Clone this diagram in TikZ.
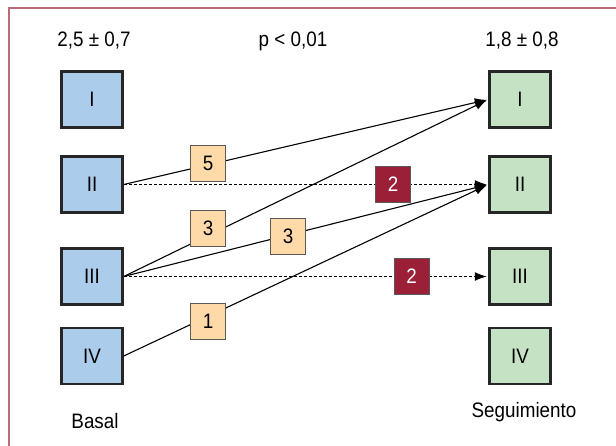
\documentclass[tikz,border=0pt]{standalone}
\usepackage{fontspec}
\setmainfont[FakeStretch=0.9]{Liberation Sans}
\usetikzlibrary{arrows.meta}
\definecolor{basalblue}{RGB}{171,205,235}
\definecolor{seggreen}{RGB}{197,227,196}
\definecolor{numorange}{RGB}{253,218,168}
\definecolor{numred}{RGB}{155,31,54}
\definecolor{framerose}{RGB}{190,105,122}
\begin{document}
\begin{tikzpicture}[x=1bp,y=-1bp,font=\fontsize{21}{21}\selectfont,
    grade/.style={draw=black!85,line width=2.5bp,minimum width=61bp,minimum height=56bp,inner sep=0pt},
    count/.style={draw=black!65,line width=0.8bp,fill=numorange,minimum width=35bp,minimum height=36bp,inner sep=0pt},
    flow/.style={line width=1.1bp,-{Latex[length=12bp,width=9bp]},shorten >=1.5bp},
    stay/.style={flow,dash pattern=on 3bp off 2bp}]
    \useasboundingbox (0,0) rectangle (616,446);
    \draw[framerose,line width=1.6bp] (9,446) -- (9,8.2) -- (616,8.2);

    \node (pre) at (94,41) {2,5 ± 0,7};
    \node (pval) at (293,41) {p < 0,01};
    \node (post) at (522,41) {1,8 ± 0,8};

    \node[grade,fill=basalblue] (b1) at (92,99.5) {I};
    \node[grade,fill=basalblue] (b2) at (92,184.5) {II};
    \node[grade,fill=basalblue] (b3) at (92,276.5) {III};
    \node[grade,fill=basalblue] (b4) at (92,356) {IV};

    \node[grade,fill=seggreen] (s1) at (520,99.5) {I};
    \node[grade,fill=seggreen] (s2) at (520,184.5) {II};
    \node[grade,fill=seggreen] (s3) at (520,276.5) {III};
    \node[grade,fill=seggreen] (s4) at (520,356) {IV};

    \node (basal) at (95,421) {Basal};
    \node (seg) at (524,412) {Seguimiento};

    % transiciones
    \draw[flow] (b2.east) -- (s1.west);
    \draw[flow] (b3.east) -- (s1.west);
    \draw[flow] (b3.east) -- (s2.west);
    \draw[flow] (b4.east) -- (s2.west);
    \draw[stay] (b2.east) -- (s2.west);
    \draw[stay] (b3.east) -- (s3.west);

    % numero de pacientes
    \node[count] (n5) at (208,163.5) {5};
    \node[count] (n3a) at (208,228) {3};
    \node[count] (n3b) at (288,236) {3};
    \node[count] (n1) at (208,321) {1};
    \node[count,fill=numred,text=white] (n2a) at (393,184) {2};
    \node[count,fill=numred,text=white] (n2b) at (411.5,276.5) {2};
\end{tikzpicture}
\end{document}
